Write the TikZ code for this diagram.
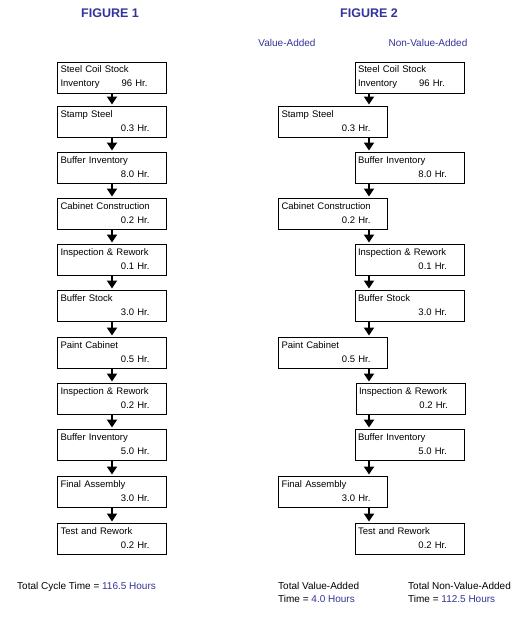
\documentclass[tikz,border=0pt]{standalone}
\usepackage{fontspec}
\setmainfont{Liberation Sans}
\usetikzlibrary{arrows.meta}
\definecolor{figBlue}{RGB}{51,51,153}
\newcommand{\hrs}[1]{\\\hspace*{0pt plus 1filll}#1 Hr.\rule{14pt}{0pt}}

\begin{document}
\begin{tikzpicture}[x=1pt, y=-1pt,
  every node/.style={font=\fontsize{10}{13}\selectfont},
  pbox/.style={draw, line width=0.9pt, minimum width=109pt, minimum height=31pt,
    text width=103pt, inner xsep=3pt, inner ysep=0pt, align=left,
    font=\fontsize{9.5}{14}\selectfont},
  flow/.style={-{Triangle[length=8pt,width=10pt]}, line width=2pt, shorten >=1pt},
  figtitle/.style={font=\fontsize{12.5}{14}\selectfont\bfseries, text=figBlue}]
  \useasboundingbox (0,0) rectangle (528,618);
  % Titles
  \node[figtitle] (fig1) at (110,13) {FIGURE 1};
  \node[figtitle] (fig2) at (369,13) {FIGURE 2};
  \node[text=figBlue] (va) at (287,43) {Value-Added};
  \node[text=figBlue] (nva) at (428,43) {Non-Value-Added};
  % Figure 1
  \node[pbox] (coil) at (112,77.5) {Steel Coil Stock\\Inventory\hspace*{0pt plus 1filll}96 Hr.\rule{16pt}{0pt}};
  \node[pbox] (stamp) at (112,121.5) {Stamp Steel\hrs{0.3}};
  \node[pbox] (bufA) at (112,167.5) {Buffer Inventory\hrs{8.0}};
  \node[pbox] (cab) at (112,213.5) {Cabinet Construction\hrs{0.2}};
  \node[pbox] (inspA) at (112,259.5) {Inspection \& Rework\hrs{0.1}};
  \node[pbox] (bufS) at (112,305.5) {Buffer Stock\hrs{3.0}};
  \node[pbox] (paint) at (112,352.5) {Paint Cabinet\hrs{0.5}};
  \node[pbox] (inspB) at (112,398.5) {Inspection \& Rework\hrs{0.2}};
  \node[pbox] (bufB) at (112,444.5) {Buffer Inventory\hrs{5.0}};
  \node[pbox] (fin) at (112,491.5) {Final Assembly\hrs{3.0}};
  \node[pbox] (test) at (112,538.5) {Test and Rework\hrs{0.2}};
  % Arrows
  \draw[flow] (coil) -- (stamp);
  \draw[flow] (stamp) -- (bufA);
  \draw[flow] (bufA) -- (cab);
  \draw[flow] (cab) -- (inspA);
  \draw[flow] (inspA) -- (bufS);
  \draw[flow] (bufS) -- (paint);
  \draw[flow] (paint) -- (inspB);
  \draw[flow] (inspB) -- (bufB);
  \draw[flow] (bufB) -- (fin);
  \draw[flow] (fin) -- (test);
  % Figure 2
  \node[pbox] (coil2) at (409.5,77.5) {Steel Coil Stock\\Inventory\hspace*{0pt plus 1filll}96 Hr.\rule{16pt}{0pt}};
  \node[pbox] (stamp2) at (333,121.5) {Stamp Steel\hrs{0.3}};
  \node[pbox] (bufA2) at (409.5,167.5) {Buffer Inventory\hrs{8.0}};
  \node[pbox] (cab2) at (333,213.5) {Cabinet Construction\hrs{0.2}};
  \node[pbox] (inspA2) at (409.5,259.5) {Inspection \& Rework\hrs{0.1}};
  \node[pbox] (bufS2) at (409.5,305.5) {Buffer Stock\hrs{3.0}};
  \node[pbox] (paint2) at (333,352.5) {Paint Cabinet\hrs{0.5}};
  \node[pbox] (inspB2) at (410.5,398.5) {Inspection \& Rework\hrs{0.2}};
  \node[pbox] (bufB2) at (409.5,444.5) {Buffer Inventory\hrs{5.0}};
  \node[pbox] (fin2) at (333,491.5) {Final Assembly\hrs{3.0}};
  \node[pbox] (test2) at (409.5,538.5) {Test and Rework\hrs{0.2}};
  % Arrows
  \coordinate (ax) at (369,0);
  \draw[flow] (coil2.south -| ax) -- (stamp2.north -| ax);
  \draw[flow] (stamp2.south -| ax) -- (bufA2.north -| ax);
  \draw[flow] (bufA2.south -| ax) -- (cab2.north -| ax);
  \draw[flow] (cab2.south -| ax) -- (inspA2.north -| ax);
  \draw[flow] (inspA2.south -| ax) -- (bufS2.north -| ax);
  \draw[flow] (bufS2.south -| ax) -- (paint2.north -| ax);
  \draw[flow] (paint2.south -| ax) -- (inspB2.north -| ax);
  \draw[flow] (inspB2.south -| ax) -- (bufB2.north -| ax);
  \draw[flow] (bufB2.south -| ax) -- (fin2.north -| ax);
  \draw[flow] (fin2.south -| ax) -- (test2.north -| ax);
  % Totals
  \node[anchor=base west, inner xsep=0pt] (cycle) at (17,589.5) {Total Cycle Time = \textcolor{figBlue}{116.5 Hours}};
  \node[anchor=north west, align=left, inner xsep=0pt] (vatot) at (278,579) {Total Value-Added\\Time = \textcolor{figBlue}{4.0 Hours}};
  \node[anchor=north west, align=left, inner xsep=0pt] (nvatot) at (408,579) {Total Non-Value-Added\\Time = \textcolor{figBlue}{112.5 Hours}};
\end{tikzpicture}
\end{document}
